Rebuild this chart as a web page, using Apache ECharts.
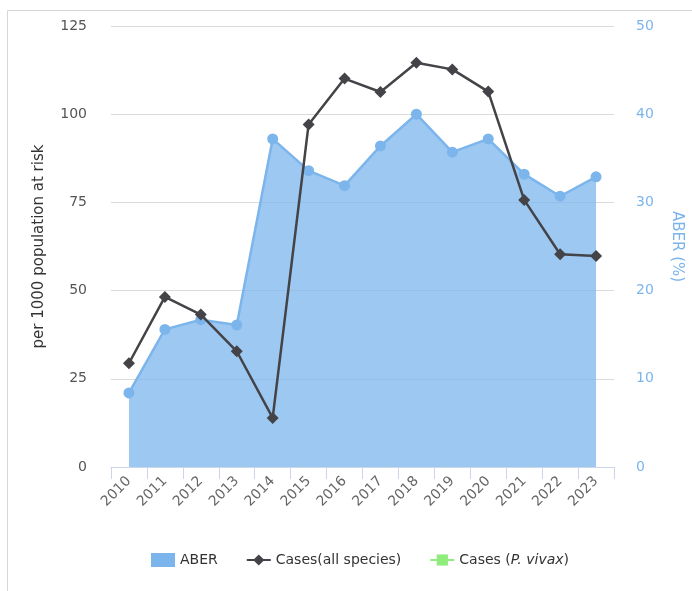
<!DOCTYPE html>
<html>
<head>
<meta charset="utf-8">
<script src="https://cdn.jsdelivr.net/npm/echarts@6/dist/echarts.min.js"></script>
<style>
html,body{margin:0;padding:0;background:#fff;}
#chart{width:692px;height:591px;}
</style>
</head>
<body>
<div id="chart"></div>
<script>
const years = ['2010','2011','2012','2013','2014','2015','2016','2017','2018','2019','2020','2021','2022','2023'];
const aber = [8.4, 15.6, 16.7, 16.1, 37.2, 33.6, 31.9, 36.4, 40.0, 35.7, 37.2, 33.2, 30.7, 32.9];
const casesAll = [29.4, 48.2, 43.2, 32.8, 13.9, 97.1, 110.1, 106.3, 114.6, 112.7, 106.4, 75.7, 60.3, 59.8];
const casesVivax = [];
const leftTicks = {min: 0, max: 125, interval: 25};
const rightTicks = {min: 0, max: 50, interval: 10};

const font = 'DejaVu Sans, sans-serif';
const chart = echarts.init(document.getElementById('chart'), null, {renderer: 'canvas'});
chart.setOption({
  animation: false,
  backgroundColor: '#fff',
  textStyle: {fontFamily: font},
  graphic: [{
    type: 'rect', shape: {x: 7.5, y: 10.5, width: 720, height: 620},
    style: {fill: 'none', stroke: '#d6d6d6', lineWidth: 1}, silent: true, z: -10
  }],
  grid: {left: 111, right: 73, top: 26, bottom: 124, containLabel: false},
  legend: {
    left: 146, top: 548,
    itemWidth: 24, itemHeight: 14, itemGap: 28,
    textStyle: {fontFamily: font, fontSize: 14, color: '#333',
      rich: {i: {fontStyle: 'italic', fontFamily: font, fontSize: 14, color: '#333'}}},
    formatter: function(name){
      if (name === 'Cases (P. vivax)') return 'Cases ({i|P. vivax})';
      return name;
    },
    data: [
      {name: 'ABER', icon: 'rect'},
      {name: 'Cases(all species)'},
      {name: 'Cases (P. vivax)'}
    ]
  },
  xAxis: {
    type: 'category', data: years, boundaryGap: true,
    axisLine: {lineStyle: {color: '#ccd6eb'}},
    axisTick: {show: true, length: 12, lineStyle: {color: '#ccd6eb'}, alignWithLabel: false},
    axisLabel: {rotate: 45, color: '#666', fontSize: 14, margin: 12, fontFamily: font, interval: 0}
  },
  yAxis: [{
    type: 'value', min: leftTicks.min, max: leftTicks.max, interval: leftTicks.interval,
    name: 'per 1000 population at risk', nameLocation: 'middle', nameGap: 64, nameRotate: 90,
    nameTextStyle: {fontSize: 15, color: '#333', fontFamily: font},
    axisLine: {show: false}, axisTick: {show: false},
    axisLabel: {color: '#555', fontSize: 14, margin: 24, fontFamily: font},
    splitLine: {lineStyle: {color: '#dadada', width: 1}}
  }, {
    type: 'value', min: rightTicks.min, max: rightTicks.max, interval: rightTicks.interval,
    position: 'right',
    name: 'ABER (%)', nameLocation: 'middle', nameGap: 55, nameRotate: -90,
    nameTextStyle: {fontSize: 15, color: '#7cb5ec', fontFamily: font},
    axisLine: {show: false}, axisTick: {show: false},
    axisLabel: {color: '#7cb5ec', fontSize: 14, margin: 22, fontFamily: font},
    splitLine: {show: false}
  }],
  series: [{
    name: 'ABER', type: 'line', yAxisIndex: 1, data: aber,
    color: '#7cb5ec',
    symbol: 'circle', symbolSize: 11,
    lineStyle: {color: '#7cb5ec', width: 2.5},
    itemStyle: {color: '#7cb5ec'},
    areaStyle: {color: '#7cb5ec', opacity: 0.75},
    z: 1
  }, {
    name: 'Cases(all species)', type: 'line', yAxisIndex: 0, data: casesAll,
    color: '#434348',
    symbol: 'diamond', symbolSize: 12,
    lineStyle: {color: '#434348', width: 2.5},
    itemStyle: {color: '#434348'},
    z: 3
  }, {
    name: 'Cases (P. vivax)', type: 'line', yAxisIndex: 0, data: casesVivax,
    color: '#90ed7d',
    symbol: 'rect', symbolSize: 10,
    lineStyle: {color: '#90ed7d', width: 2.5},
    itemStyle: {color: '#90ed7d'},
    z: 2
  }]
});
</script>
</body>
</html>
